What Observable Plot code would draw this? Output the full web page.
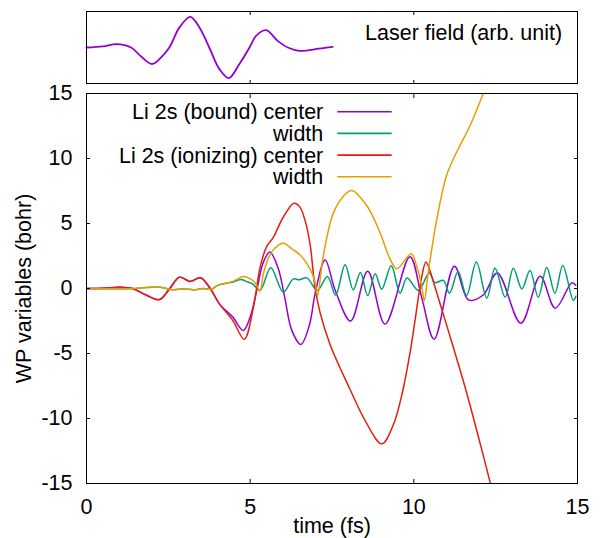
<!DOCTYPE html>
<html><head><meta charset="utf-8">
<script src="https://cdn.jsdelivr.net/npm/d3@7"></script>
<script src="https://cdn.jsdelivr.net/npm/@observablehq/plot@0.6"></script>
<style>body{margin:0;background:#fff} #chart svg{display:block;overflow:visible}</style>
</head><body><div id="chart"></div>
<script>
const xTicks = [0, 5, 10, 15];
const yTicks = [-15, -10, -5, 0, 5, 10, 15];
const seriesNames = ["Li 2s (bound) center", "width", "Li 2s (ionizing) center", "width"];
const seriesColors = ["#9400d3", "#009e73", "#e51e10", "#e69f00"];
const laserLabel = "Laser field (arb. unit)";
const xLabel = "time (fs)";
const yLabel = "WP variables (bohr)";

// [time (fs), field (arb.)]
const laser = [[0,0],[0.5,0.04],[0.92,0.11],[1.36,0],[1.67,-0.3],[2.0,-0.55],[2.28,-0.33],[2.53,0],[2.84,0.67],[3.17,1.02],[3.45,0.67],[3.75,0],[4.06,-0.72],[4.35,-1.02],[4.67,-0.55],[4.98,0],[5.18,0.39],[5.49,0.58],[5.84,0.22],[6.15,0],[6.51,-0.11],[7.1,-0.04],[7.52,0.02]];

// [time (fs), value (bohr)]
const boundCenter = [[0,0],[0.5,0.02],[1.0,0.1],[1.4,0],[1.82,-0.5],[2.23,-0.85],[2.53,-0.05],[2.84,0.87],[3.16,0.54],[3.48,0.82],[3.78,0],[4.06,-1.18],[4.47,-2.2],[4.79,-3.23],[5.0,-2.2],[5.2,-0.15],[5.4,2.0],[5.6,2.8],[5.85,1.6],[6.05,-0.6],[6.27,-3.2],[6.55,-4.3],[6.8,-2.9],[7.0,-0.2],[7.29,2.2],[7.6,-0.15],[8.07,-2.5],[8.59,1.33],[9.12,-2.74],[9.88,2.45],[10.25,-0.8],[10.62,-3.9],[11.24,1.72],[11.67,-0.87],[12.12,-0.5],[12.55,1.2],[13.27,-2.67],[13.86,0.95],[14.32,-1.51],[14.83,0.44],[14.95,0.25]];

const boundWidth = [[0,0],[1.5,0],[2.2,0.12],[2.65,-0.1],[2.97,-0.03],[3.27,-0.1],[3.56,0],[3.82,-0.05],[4.02,0.26],[4.33,0.44],[4.48,0.5],[4.72,0.7],[4.87,0.55],[5.07,0.35],[5.3,-0.15],[5.63,1.6],[6.01,-0.28],[6.32,0.74],[6.5,0.67],[6.73,0.82],[7.05,-0.15],[7.36,0.92],[7.61,-0.5],[7.9,1.82],[8.15,-0.1],[8.37,1.24],[8.59,-0.54],[8.82,1.13],[9.02,-0.05],[9.31,1.75],[9.58,-0.36],[9.79,0.8],[10.14,-0.15],[10.47,1.2],[10.65,0.45],[10.9,0.62],[11.09,-0.36],[11.35,1.3],[11.61,-0.54],[11.91,2.03],[12.23,-0.74],[12.48,1.56],[12.79,-0.67],[13.04,1.56],[13.3,-0.03],[13.55,1.38],[13.8,-0.67],[14.06,1.62],[14.31,-0.36],[14.55,1.77],[14.87,-0.92],[14.95,-0.6]];

const ionCenter = [[0,0],[0.5,0.02],[1.0,0.1],[1.4,0],[1.82,-0.5],[2.23,-0.85],[2.53,-0.05],[2.84,0.87],[3.16,0.54],[3.48,0.82],[3.78,0],[4.06,-1.18],[4.47,-2.46],[4.82,-3.9],[5.1,-1.44],[5.3,1.6],[5.5,3.2],[5.71,3.95],[6.01,5.48],[6.34,6.56],[6.52,6.26],[6.68,5.2],[6.83,3.4],[6.98,0.1],[7.13,-1.8],[7.44,-4.3],[8.05,-7.75],[8.5,-10.1],[9.02,-11.95],[9.37,-10.5],[9.65,-8.0],[9.88,-5.0],[10.04,-2.4],[10.24,0.87],[10.37,2.03],[10.5,1.3],[10.6,0.5],[11.0,-2.8],[11.51,-7.1],[11.92,-10.9],[12.34,-15]];

const ionWidth = [[0,0],[1.5,0],[2.2,0.12],[2.65,-0.1],[2.97,-0.03],[3.27,-0.1],[3.56,0],[3.82,-0.05],[4.02,0.26],[4.33,0.44],[4.48,0.55],[4.79,0.92],[5.0,0.74],[5.15,0.45],[5.3,-0.2],[5.4,1.1],[5.55,2.3],[5.75,3.1],[6.01,3.49],[6.3,3.0],[6.52,2.6],[6.83,1.5],[6.97,0.6],[7.06,-0.54],[7.19,1.8],[7.34,3.9],[7.54,5.8],[7.85,7.1],[8.1,7.54],[8.56,6.38],[8.95,4.4],[9.27,2.28],[9.48,1.51],[9.92,2.67],[10.1,1.6],[10.24,0.2],[10.32,-0.95],[10.44,1.26],[10.7,5.3],[11.0,8.7],[11.31,10.5],[11.72,12.54],[12.12,15]];

const series = [boundCenter, boundWidth, ionCenter, ionWidth];

const FONT = "'Liberation Sans', Arial, Helvetica, sans-serif";
const FS = 21.5;
const fmt = d => String(d);

const topPlot = Plot.plot({
  width: 602, height: 85,
  marginTop: 11, marginBottom: 2, marginLeft: 86, marginRight: 25,
  style: {fontFamily: FONT, fontSize: FS + "px", background: "#fff", color: "#000", overflow: "visible"},
  x: {domain: [0, 15]},
  y: {domain: [-1.2, 1.2], axis: null},
  marks: [
    Plot.line(laser, {x: d => d[0], y: d => d[1], stroke: seriesColors[0], strokeWidth: 1.8, curve: "catmull-rom"}),
    Plot.frame({stroke: "#000", strokeWidth: 1}),
    Plot.axisX(xTicks, {anchor: "top", tickSize: 3, dy: 3, tickFormat: () => "", label: null}),
    Plot.axisX(xTicks, {anchor: "bottom", tickSize: 3, dy: -3, tickFormat: () => "", label: null}),
    Plot.text([laserLabel], {text: d => d, frameAnchor: "right", dx: -15.3, dy: -14.6, textAnchor: "end", lineAnchor: "middle", fontSize: FS, fill: "#000"})
  ]
});

const mainPlot = Plot.plot({
  width: 602, height: 453,
  marginTop: 8, marginBottom: 55, marginLeft: 86, marginRight: 25,
  style: {fontFamily: FONT, fontSize: FS + "px", background: "#fff", color: "#000", overflow: "visible"},
  x: {domain: [0, 15]},
  y: {domain: [-15, 15]},
  marks: [
    ...series.map((s, i) => Plot.line(s, {x: d => d[0], y: d => d[1], stroke: seriesColors[i], strokeWidth: 1.5, curve: "catmull-rom", clip: true})),
    Plot.frame({stroke: "#000", strokeWidth: 1}),
    Plot.axisX(xTicks, {anchor: "top", tickSize: 4, dy: 4, tickFormat: () => "", label: null}),
    Plot.axisX(xTicks, {anchor: "bottom", tickSize: 4, dy: -4, tickFormat: () => "", label: null}),
    Plot.axisY(yTicks, {anchor: "left", tickSize: 4, dx: 4, tickFormat: () => "", label: null}),
    Plot.axisY(yTicks, {anchor: "right", tickSize: 4, dx: -4, tickFormat: () => "", label: null}),
    Plot.axisX(xTicks, {anchor: "bottom", tickSize: 0, tickPadding: 15, tickFormat: fmt, label: null, fontSize: FS}),
    Plot.axisY(yTicks, {anchor: "left", tickSize: 0, tickPadding: 14, tickFormat: fmt, label: null, fontSize: FS}),
    Plot.text([yLabel], {text: d => d, frameAnchor: "left", dx: -62.4, rotate: -90, textAnchor: "middle", lineAnchor: "middle", fontSize: FS, fill: "#000"}),
    Plot.text([xLabel], {text: d => d, frameAnchor: "bottom", dy: 43, textAnchor: "middle", lineAnchor: "middle", fontSize: FS, fill: "#000"})
  ]
});

// legend (top-right, gnuplot style)
const lg = d3.select(mainPlot).append("g").attr("font-family", FONT).attr("font-size", FS);
seriesNames.forEach((name, i) => {
  const y = 26.7 + i * 21.7;
  lg.append("text").attr("x", 323.3).attr("y", y).attr("dy", "0.35em")
    .attr("text-anchor", "end").attr("fill", "#000").text(name);
  lg.append("line").attr("x1", 337.3).attr("x2", 391.7).attr("y1", y).attr("y2", y)
    .attr("stroke", seriesColors[i]).attr("stroke-width", 1.6);
});

document.getElementById("chart").append(topPlot, mainPlot);
</script>
</body></html>
